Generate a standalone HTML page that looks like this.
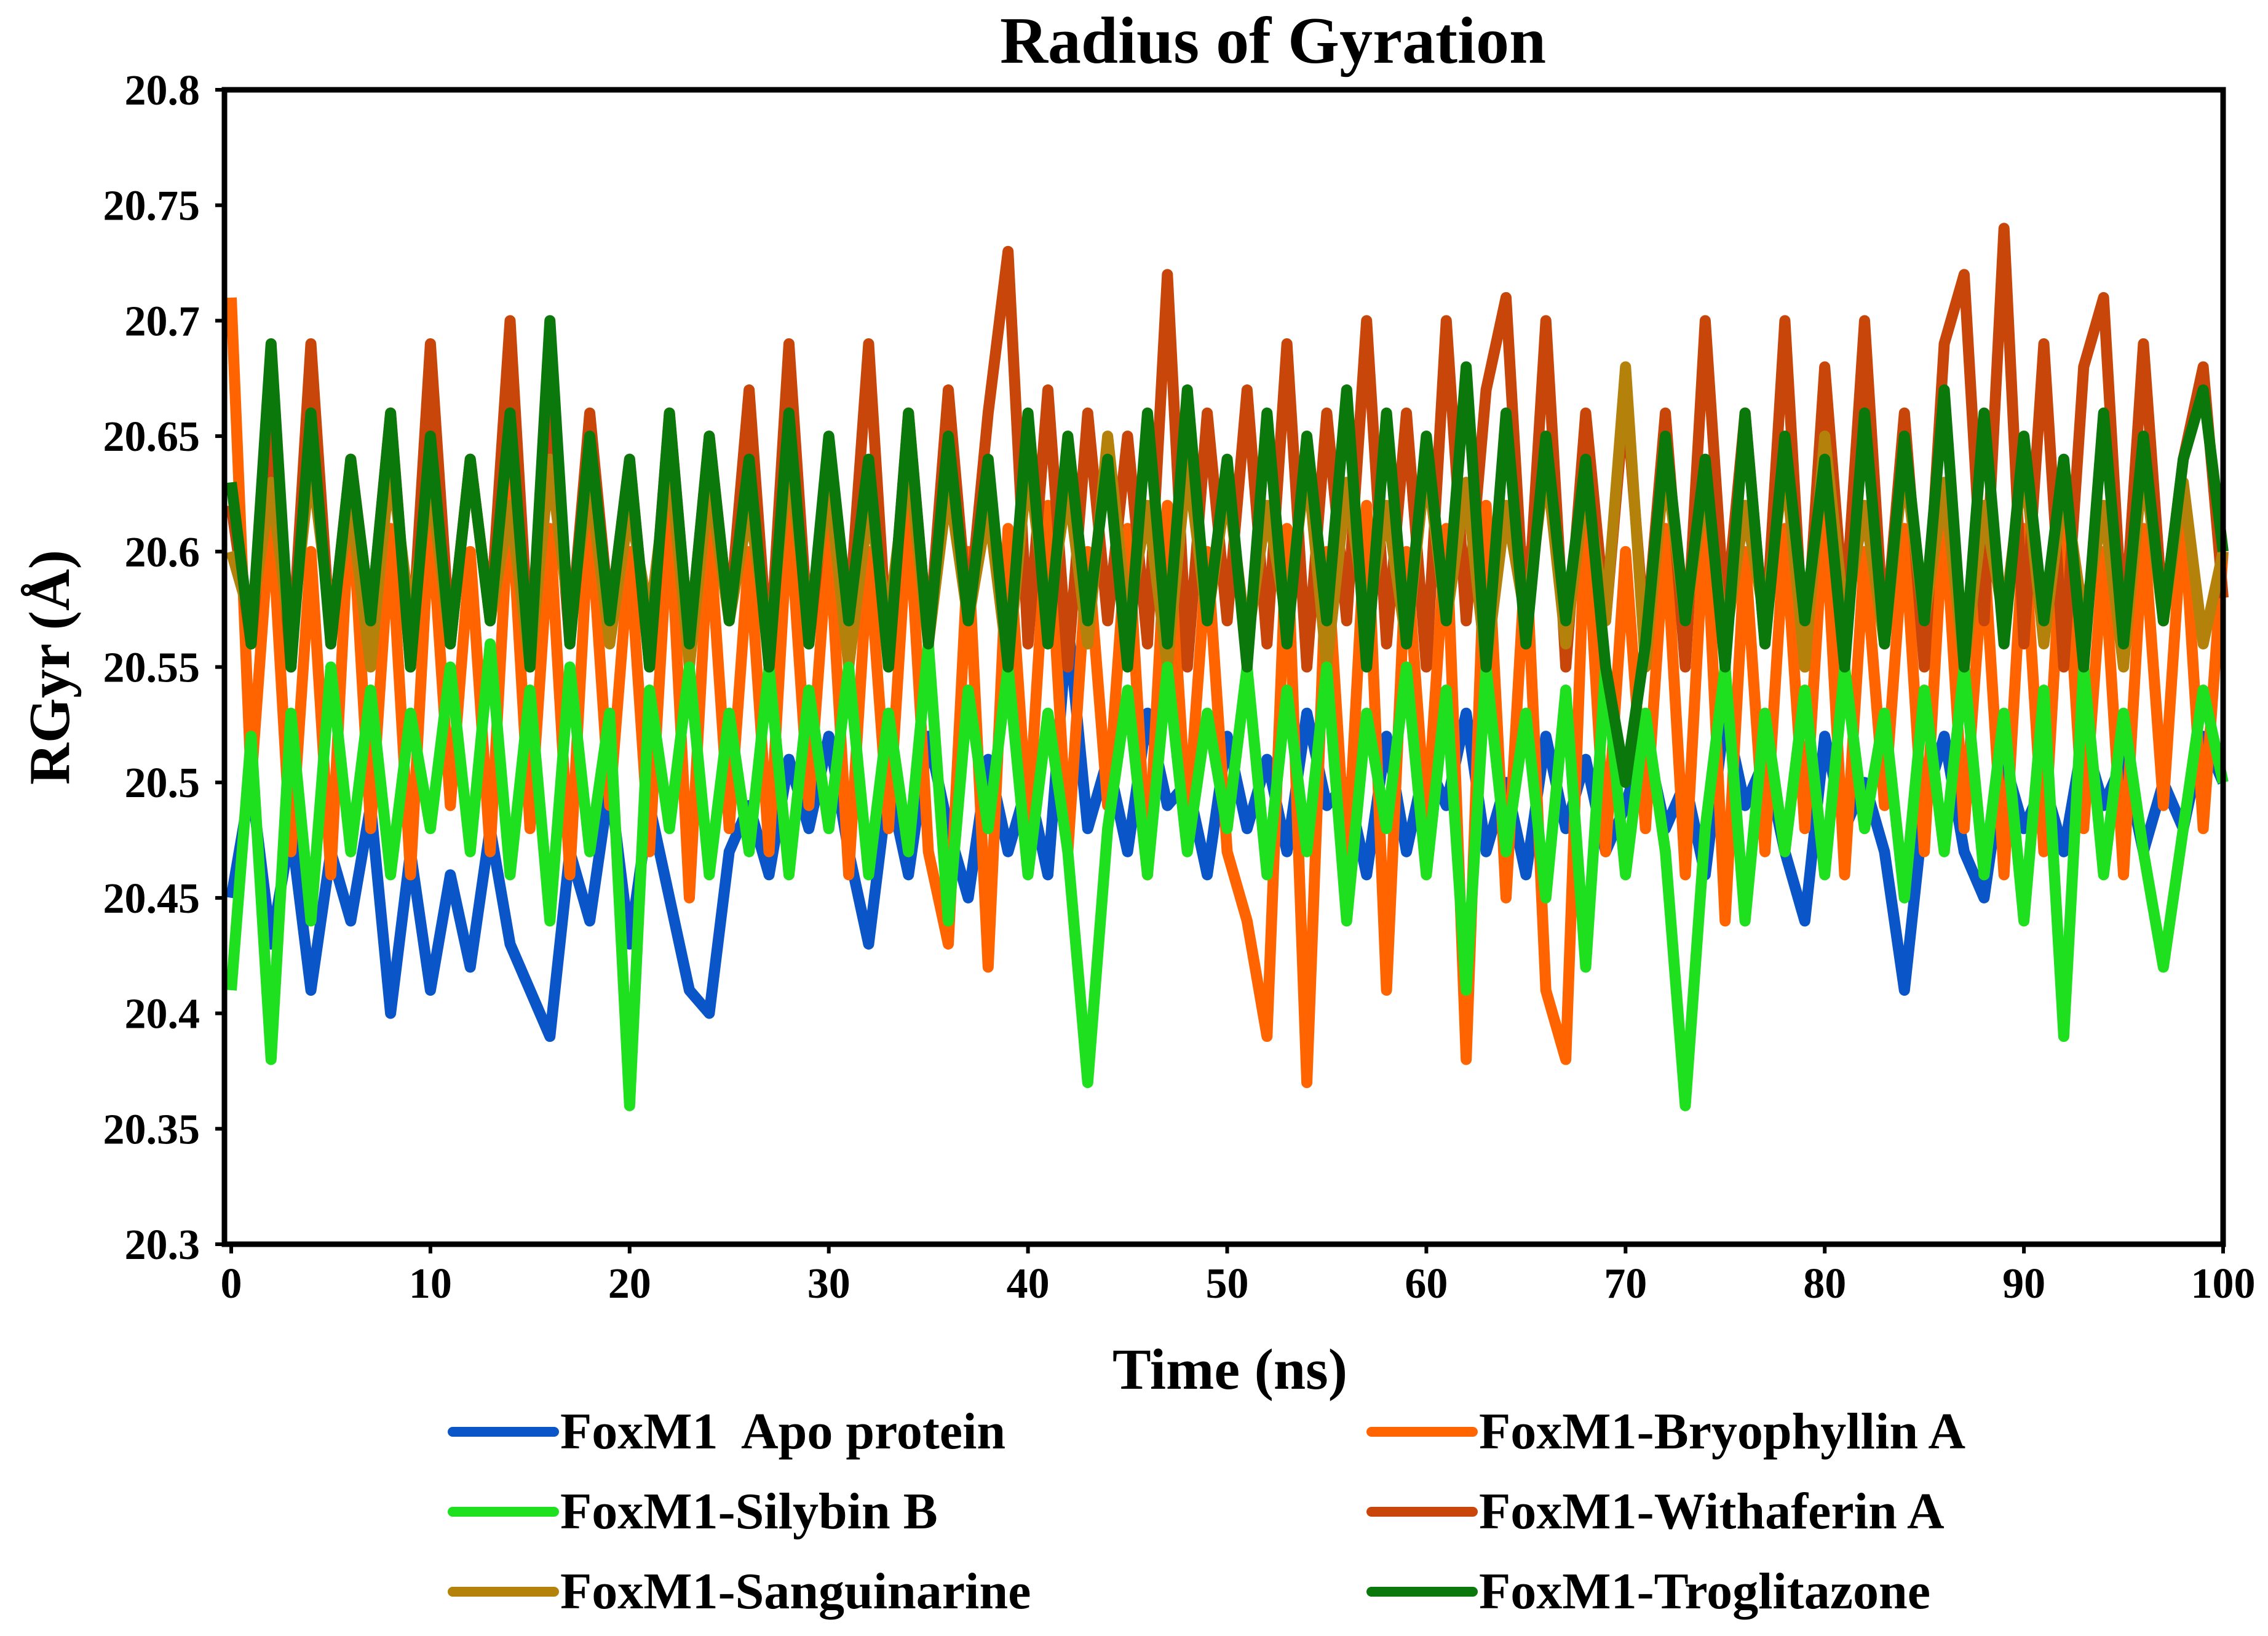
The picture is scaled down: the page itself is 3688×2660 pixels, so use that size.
<!DOCTYPE html>
<html><head><meta charset="utf-8"><style>
body{margin:0;background:#fff;}
svg text{font-family:"Liberation Serif",serif;font-weight:bold;fill:#000;}
</style></head><body>
<svg id="chart" width="3688" height="2655" xmlns="http://www.w3.org/2000/svg">
<text x="2070" y="102" font-size="108" text-anchor="middle">Radius of Gyration</text>
<g id="plot"></g>
<rect x="365" y="146" width="3250" height="1877" fill="none" stroke="#000" stroke-width="9"/>
<g id="axes"></g>
<text transform="translate(112,1085) rotate(-90)" font-size="94" text-anchor="middle">RGyr (Å)</text>
<text x="2000" y="2258" font-size="94" text-anchor="middle">Time (ns)</text>
<g id="legend"></g>
</svg>
<script>
const yTicks=[20.3,20.35,20.4,20.45,20.5,20.55,20.6,20.65,20.7,20.75,20.8];
const yTickLabels=["20.3","20.35","20.4","20.45","20.5","20.55","20.6","20.65","20.7","20.75","20.8"];
const xTicks=[0,10,20,30,40,50,60,70,80,90,100];
const seriesNames=["FoxM1  Apo protein","FoxM1-Bryophyllin A","FoxM1-Withaferin A","FoxM1-Sanguinarine","FoxM1-Silybin B","FoxM1-Troglitazone"];
const apo=[20.45,20.50,20.43,20.48,20.41,20.47,20.44,20.49,20.40,20.47,20.41,20.46,20.42,20.48,20.43,20.41,20.39,20.47,20.44,20.50,20.43,20.49,20.45,20.41,20.40,20.47,20.49,20.46,20.51,20.48,20.52,20.47,20.43,20.50,20.46,20.52,20.48,20.45,20.51,20.47,20.50,20.46,20.57,20.48,20.51,20.47,20.53,20.49,20.50,20.46,20.52,20.48,20.51,20.47,20.53,20.49,20.50,20.46,20.52,20.47,20.51,20.49,20.53,20.47,20.50,20.46,20.52,20.48,20.51,20.47,20.49,20.52,20.48,20.50,20.46,20.53,20.49,20.51,20.47,20.44,20.52,20.48,20.50,20.47,20.41,20.49,20.52,20.47,20.45,20.51,20.48,20.50,20.47,20.52,20.49,20.51,20.47,20.50,20.48,20.52,20.50];
const bryophyllin=[20.71,20.50,20.62,20.47,20.60,20.46,20.63,20.48,20.61,20.46,20.62,20.49,20.60,20.47,20.63,20.48,20.61,20.46,20.62,20.49,20.60,20.47,20.62,20.45,20.61,20.48,20.60,20.47,20.62,20.49,20.61,20.46,20.60,20.48,20.62,20.47,20.43,20.60,20.42,20.61,20.48,20.62,20.47,20.60,20.49,20.61,20.46,20.62,20.48,20.60,20.47,20.44,20.39,20.61,20.37,20.60,20.46,20.62,20.41,20.60,20.48,20.61,20.38,20.62,20.45,20.60,20.41,20.38,20.62,20.47,20.60,20.48,20.61,20.46,20.62,20.44,20.60,20.47,20.61,20.48,20.62,20.46,20.60,20.49,20.61,20.47,20.62,20.48,20.60,20.46,20.61,20.47,20.62,20.48,20.60,20.46,20.61,20.49,20.62,20.48,20.60];
const withaferin=[20.62,20.56,20.66,20.55,20.69,20.56,20.64,20.57,20.66,20.55,20.69,20.56,20.64,20.57,20.70,20.55,20.67,20.56,20.66,20.57,20.64,20.55,20.66,20.56,20.65,20.57,20.67,20.55,20.69,20.56,20.64,20.57,20.69,20.55,20.66,20.56,20.67,20.57,20.66,20.73,20.56,20.67,20.55,20.66,20.57,20.65,20.56,20.72,20.55,20.66,20.57,20.67,20.56,20.69,20.55,20.66,20.57,20.70,20.56,20.66,20.55,20.70,20.57,20.67,20.71,20.56,20.70,20.55,20.66,20.57,20.67,20.56,20.66,20.55,20.70,20.57,20.66,20.56,20.70,20.55,20.68,20.57,20.70,20.56,20.66,20.55,20.69,20.72,20.57,20.74,20.56,20.69,20.55,20.68,20.71,20.56,20.69,20.57,20.64,20.68,20.58];
const sanguinarine=[20.60,20.57,20.63,20.56,20.64,20.57,20.62,20.55,20.64,20.57,20.63,20.56,20.64,20.57,20.62,20.55,20.64,20.57,20.63,20.56,20.62,20.57,20.64,20.55,20.63,20.57,20.62,20.56,20.64,20.57,20.63,20.55,20.62,20.57,20.64,20.56,20.63,20.57,20.62,20.55,20.64,20.57,20.63,20.56,20.65,20.57,20.62,20.55,20.64,20.57,20.63,20.56,20.62,20.57,20.64,20.55,20.63,20.57,20.62,20.56,20.64,20.57,20.63,20.55,20.62,20.57,20.64,20.56,20.63,20.57,20.68,20.55,20.64,20.57,20.63,20.56,20.62,20.57,20.64,20.55,20.65,20.57,20.62,20.56,20.64,20.57,20.63,20.55,20.62,20.57,20.64,20.56,20.63,20.57,20.62,20.55,20.64,20.57,20.63,20.56,20.60];
const silybin=[20.41,20.52,20.38,20.53,20.44,20.55,20.47,20.54,20.46,20.53,20.48,20.55,20.47,20.56,20.46,20.54,20.44,20.55,20.47,20.53,20.36,20.54,20.48,20.55,20.46,20.53,20.47,20.55,20.46,20.54,20.48,20.55,20.46,20.53,20.47,20.56,20.44,20.54,20.48,20.55,20.46,20.53,20.47,20.37,20.48,20.54,20.46,20.55,20.47,20.53,20.48,20.55,20.46,20.54,20.47,20.55,20.44,20.53,20.48,20.55,20.46,20.54,20.41,20.55,20.47,20.53,20.45,20.54,20.42,20.55,20.46,20.53,20.47,20.36,20.48,20.55,20.44,20.53,20.47,20.54,20.46,20.55,20.48,20.53,20.45,20.54,20.47,20.55,20.46,20.53,20.44,20.54,20.39,20.55,20.46,20.53,20.47,20.42,20.48,20.54,20.50];
const troglitazone=[20.63,20.56,20.69,20.55,20.66,20.56,20.64,20.57,20.66,20.55,20.65,20.56,20.64,20.57,20.66,20.55,20.70,20.56,20.65,20.57,20.64,20.55,20.66,20.56,20.65,20.57,20.64,20.55,20.66,20.56,20.65,20.57,20.64,20.55,20.66,20.56,20.65,20.57,20.64,20.55,20.66,20.56,20.65,20.57,20.64,20.55,20.66,20.56,20.67,20.57,20.64,20.55,20.66,20.56,20.65,20.57,20.67,20.55,20.66,20.56,20.65,20.57,20.68,20.55,20.66,20.56,20.65,20.57,20.64,20.55,20.50,20.56,20.65,20.57,20.64,20.55,20.66,20.56,20.65,20.57,20.64,20.55,20.66,20.56,20.65,20.57,20.67,20.55,20.66,20.56,20.65,20.57,20.64,20.55,20.66,20.56,20.65,20.57,20.64,20.67,20.60];
const seriesList=[apo,bryophyllin,withaferin,sanguinarine,silybin,troglitazone];
const colors=["#0a55c8","#ff6400","#c8460a","#b4820a","#1ee01e","#0a780a"];
const NS="http://www.w3.org/2000/svg";
const X0=376,X1=3615,Y0=2023,Y1=146;
function xs(t){return X0+(t/100)*(X1-X0);}
function ys(v){return Y0-(v-20.3)/(0.5)*(Y0-Y1);}
const plot=document.getElementById('plot');
seriesList.forEach((s,k)=>{
  const p=document.createElementNS(NS,'polyline');
  
  
  p.setAttribute('points',s.map((v,i)=>xs(i*100/(s.length-1))+','+ys(v)).join(' '));
  p.setAttribute('fill','none');p.setAttribute('stroke',colors[k]);
  p.setAttribute('stroke-width','18');p.setAttribute('stroke-linejoin','round');
  plot.appendChild(p);
});
const axes=document.getElementById('axes');
yTicks.forEach((v,i)=>{
  const l=document.createElementNS(NS,'line');
  
  
  l.setAttribute('x1',350);l.setAttribute('x2',365);l.setAttribute('y1',ys(v));l.setAttribute('y2',ys(v));
  l.setAttribute('stroke','#000');l.setAttribute('stroke-width','6');axes.appendChild(l);
  const t=document.createElementNS(NS,'text');
  
  
  t.setAttribute('x',325);t.setAttribute('y',ys(v)+24);t.setAttribute('text-anchor','end');t.setAttribute('font-size','70');
  t.textContent=yTickLabels[i];axes.appendChild(t);
});
xTicks.forEach(v=>{
  const l=document.createElementNS(NS,'line');
  
  
  l.setAttribute('x1',xs(v));l.setAttribute('x2',xs(v));l.setAttribute('y1',2023);l.setAttribute('y2',2038);
  l.setAttribute('stroke','#000');l.setAttribute('stroke-width','6');axes.appendChild(l);
  const t=document.createElementNS(NS,'text');
  
  
  t.setAttribute('x',xs(v));t.setAttribute('y',2110);t.setAttribute('text-anchor','middle');t.setAttribute('font-size','70');
  t.textContent=v;axes.appendChild(t);
});
const legendOrder=[[0,0,0],[1,1,0],[4,0,1],[2,1,1],[3,0,2],[5,1,2]];
const leg=document.getElementById('legend');
legendOrder.forEach(([k,col,row])=>{
  const lx=col?2230:736, y=2328+row*130;
  const l=document.createElementNS(NS,'line');
  
  
  l.setAttribute('x1',lx);l.setAttribute('x2',lx+165);l.setAttribute('y1',y);l.setAttribute('y2',y);
  l.setAttribute('stroke',colors[k]);l.setAttribute('stroke-width','16');l.setAttribute('stroke-linecap','round');
  leg.appendChild(l);
  const t=document.createElementNS(NS,'text');
  
  
  t.setAttribute('x',lx+175);t.setAttribute('y',y+27);t.setAttribute('font-size','84');
  t.setAttribute('xml:space','preserve');t.style.whiteSpace='pre';
  t.textContent=seriesNames[k];leg.appendChild(t);
});
</script>
</body></html>
